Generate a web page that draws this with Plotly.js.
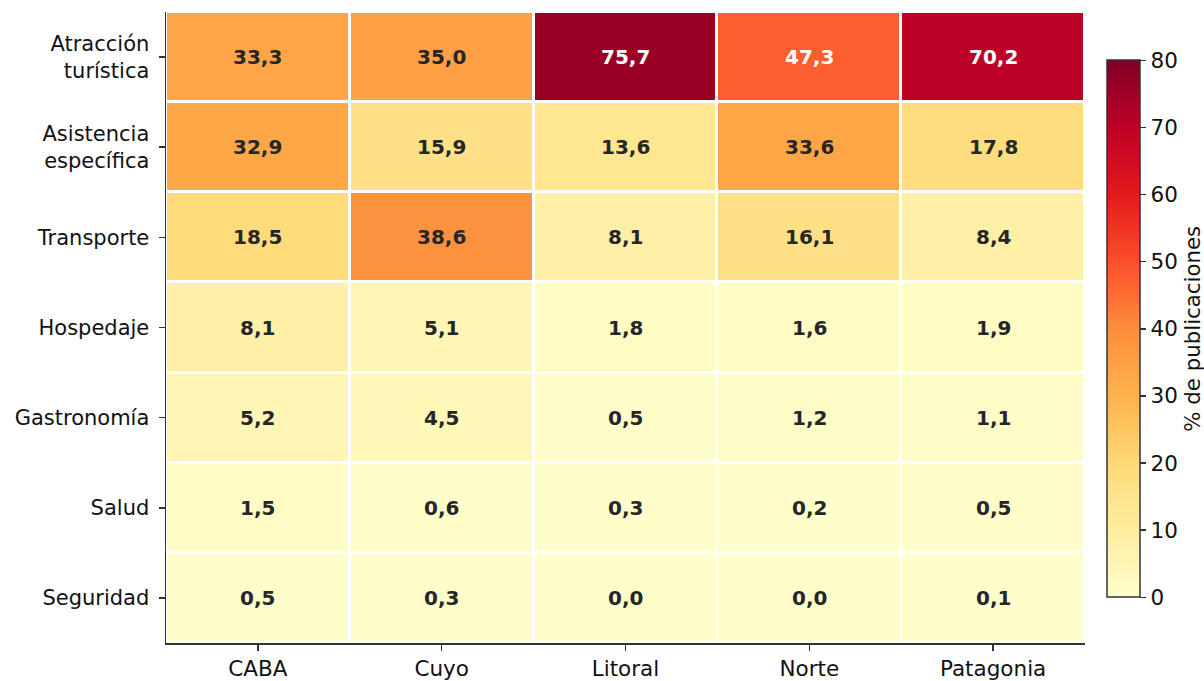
<!DOCTYPE html>
<html>
<head>
<meta charset="utf-8">
<script src="https://cdn.plot.ly/plotly-3.0.1.min.js"></script>
<style>html,body{margin:0;padding:0;background:#fff;}#chart{width:1204px;height:681px;}</style>
</head>
<body>
<div id="chart"></div>
<script>
const regions = ["CABA", "Cuyo", "Litoral", "Norte", "Patagonia"];
const categories = ["Atracción<br>turística", "Asistencia<br>específica", "Transporte", "Hospedaje", "Gastronomía", "Salud", "Seguridad"];
const values = [
  [33.3, 35.0, 75.7, 47.3, 70.2],
  [32.9, 15.9, 13.6, 33.6, 17.8],
  [18.5, 38.6, 8.1, 16.1, 8.4],
  [8.1, 5.1, 1.8, 1.6, 1.9],
  [5.2, 4.5, 0.5, 1.2, 1.1],
  [1.5, 0.6, 0.3, 0.2, 0.5],
  [0.5, 0.3, 0.0, 0.0, 0.1]
];
const colorbarTitle = "% de publicaciones";
const cbTicks = [0, 10, 20, 30, 40, 50, 60, 70, 80];

const ylorrd = ["#ffffcc","#ffeda0","#fed976","#feb24c","#fd8d3c","#fc4e2a","#e31a1c","#bd0026","#800026"];
const colorscale = ylorrd.map((c, i) => [i / (ylorrd.length - 1), c]);

const fmt = v => v.toFixed(1).replace(".", ",");

const annotations = [];
values.forEach((row, i) => {
  row.forEach((v, j) => {
    annotations.push({
      x: regions[j], y: categories[i], xref: "x", yref: "y",
      text: "<b>" + fmt(v) + "</b>", showarrow: false,
      font: {family: "DejaVu Sans", size: 20, color: v > 42 ? "#ffffff" : "#262626"}
    });
  });
});

const trace = {
  type: "heatmap",
  x: regions, y: categories, z: values,
  zmin: 0, zmax: 80,
  colorscale: colorscale,
  xgap: 3, ygap: 3,
  hoverinfo: "none",
  colorbar: {
    x: 1.024, xanchor: "left", xref: "paper",
    y: 0.498, yanchor: "middle",
    len: 0.851, lenmode: "fraction",
    thickness: 33, thicknessmode: "pixels",
    outlinewidth: 1.5, outlinecolor: "#333",
    ticks: "outside", ticklen: 6, tickwidth: 1.5, tickcolor: "#333",
    tickvals: cbTicks, ticktext: cbTicks.map(String),
    tickfont: {family: "DejaVu Sans", size: 21.5, color: "#111"},
    title: {text: colorbarTitle, side: "right", font: {family: "DejaVu Sans", size: 21.3, color: "#111"}},
    xpad: 0, ypad: 0
  }
};

const layout = {
  width: 1204, height: 681,
  margin: {l: 166, r: 119, t: 12, b: 38, autoexpand: false},
  paper_bgcolor: "#ffffff", plot_bgcolor: "#ffffff",
  font: {family: "DejaVu Sans", color: "#111"},
  xaxis: {
    showline: true, linecolor: "#333", linewidth: 1.5, mirror: false,
    ticks: "outside", ticklen: 6, tickwidth: 1.5, tickcolor: "#333",
    showgrid: false, zeroline: false, ticklabelstandoff: 0,
    tickfont: {family: "DejaVu Sans", size: 21.5, color: "#111"}
  },
  yaxis: {
    autorange: "reversed",
    showline: true, linecolor: "#333", linewidth: 1.5, mirror: false,
    ticks: "outside", ticklen: 6, tickwidth: 1.5, tickcolor: "#333",
    showgrid: false, zeroline: false, ticklabelstandoff: 5,
    tickfont: {family: "DejaVu Sans", size: 21, color: "#111"}
  },
  annotations: annotations
};

Plotly.newPlot("chart", [trace], layout, {displayModeBar: false, staticPlot: true});
</script>
</body>
</html>
